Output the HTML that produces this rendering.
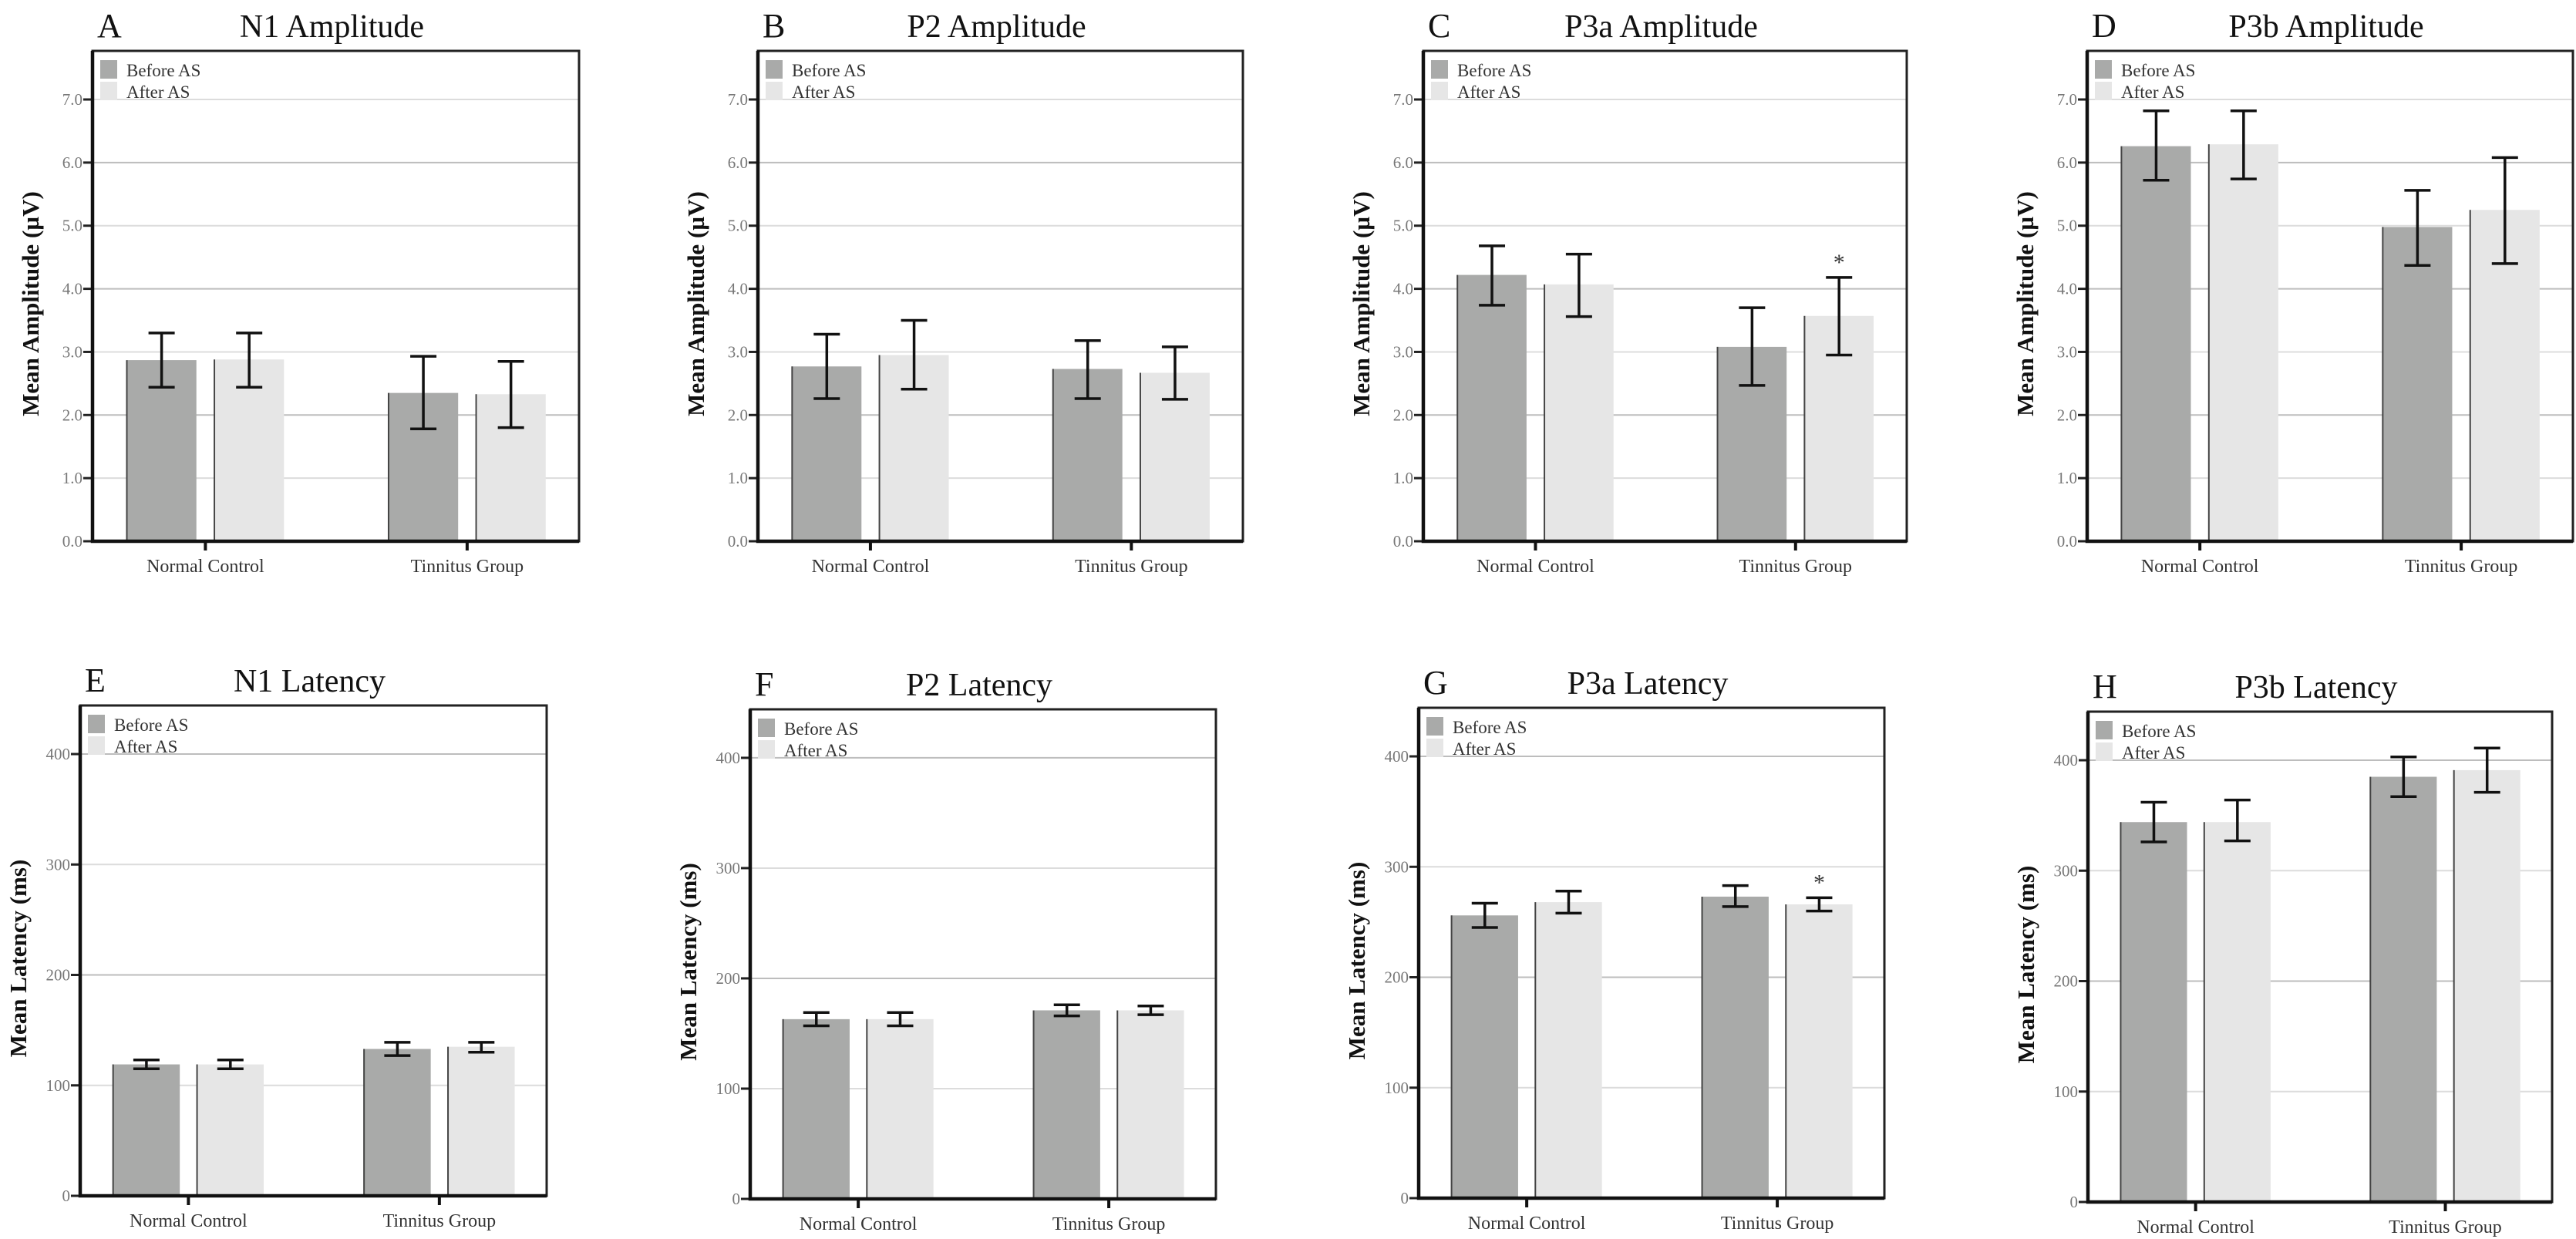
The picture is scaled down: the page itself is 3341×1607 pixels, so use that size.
<!DOCTYPE html>
<html><head><meta charset="utf-8"><style>
html,body{margin:0;padding:0;background:#fff}
svg{display:block}
text{font-family:"Liberation Serif",serif}
</style></head><body>
<svg id="fig" width="3341" height="1607" viewBox="0 0 3341 1607" xmlns="http://www.w3.org/2000/svg"></svg>
<script>
const categories=["Normal Control","Tinnitus Group"];
const seriesNames=["Before AS","After AS"];
const ampTicks=["0.0","1.0","2.0","3.0","4.0","5.0","6.0","7.0"];
const ampTickVals=[0,1,2,3,4,5,6,7];
const latTicks=["0","100","200","300","400"];
const latTickVals=[0,100,200,300,400];
// Panel A N1 amplitude
const aBefore=[2.87,2.35], aBeforeHi=[3.30,2.93], aBeforeLo=[2.44,1.78];
const aAfter=[2.88,2.33], aAfterHi=[3.30,2.85], aAfterLo=[2.44,1.80];
// Panel B P2 amplitude
const bBefore=[2.77,2.73], bBeforeHi=[3.28,3.18], bBeforeLo=[2.26,2.26];
const bAfter=[2.95,2.67], bAfterHi=[3.50,3.08], bAfterLo=[2.41,2.25];
// Panel C P3a amplitude
const cBefore=[4.22,3.08], cBeforeHi=[4.68,3.70], cBeforeLo=[3.74,2.47];
const cAfter=[4.07,3.57], cAfterHi=[4.55,4.18], cAfterLo=[3.56,2.95];
// Panel D P3b amplitude
const dBefore=[6.26,4.98], dBeforeHi=[6.82,5.56], dBeforeLo=[5.72,4.37];
const dAfter=[6.29,5.25], dAfterHi=[6.82,6.08], dAfterLo=[5.74,4.40];
// Panel E N1 latency
const eBefore=[119,133], eBeforeHi=[123,139], eBeforeLo=[115,127];
const eAfter=[119,135], eAfterHi=[123,139], eAfterLo=[115,130];
// Panel F P2 latency
const fBefore=[163,171], fBeforeHi=[169,176], fBeforeLo=[157,166];
const fAfter=[163,171], fAfterHi=[169,175], fAfterLo=[157,167];
// Panel G P3a latency
const gBefore=[256,273], gBeforeHi=[267,283], gBeforeLo=[245,264];
const gAfter=[268,266], gAfterHi=[278,272], gAfterLo=[258,260];
// Panel H P3b latency
const hBefore=[344,385], hBeforeHi=[362,403], hBeforeLo=[326,367];
const hAfter=[344,391], hAfterHi=[364,411], hAfterLo=[327,371];

const svg=document.getElementById('fig');
const NS='http://www.w3.org/2000/svg';
function mk(tag,attrs,parent){const e=document.createElementNS(NS,tag);for(const k in attrs)e.setAttribute(k,attrs[k]);(parent||svg).appendChild(e);return e;}

const panels=[
 {letter:"A",title:"N1 Amplitude",box:[120,66,751,702],kind:"amp",b:[aBefore,aBeforeHi,aBeforeLo],a:[aAfter,aAfterHi,aAfterLo],star:null},
 {letter:"B",title:"P2 Amplitude",box:[983,66,1612,702],kind:"amp",b:[bBefore,bBeforeHi,bBeforeLo],a:[bAfter,bAfterHi,bAfterLo],star:null},
 {letter:"C",title:"P3a Amplitude",box:[1846,66,2473,702],kind:"amp",b:[cBefore,cBeforeHi,cBeforeLo],a:[cAfter,cAfterHi,cAfterLo],star:1},
 {letter:"D",title:"P3b Amplitude",box:[2707,66,3337,702],kind:"amp",b:[dBefore,dBeforeHi,dBeforeLo],a:[dAfter,dAfterHi,dAfterLo],star:null},
 {letter:"E",title:"N1 Latency",box:[104,915,709,1551],kind:"lat",b:[eBefore,eBeforeHi,eBeforeLo],a:[eAfter,eAfterHi,eAfterLo],star:null},
 {letter:"F",title:"P2 Latency",box:[973,920,1577,1555],kind:"lat",b:[fBefore,fBeforeHi,fBeforeLo],a:[fAfter,fAfterHi,fAfterLo],star:null},
 {letter:"G",title:"P3a Latency",box:[1840,918,2444,1554],kind:"lat",b:[gBefore,gBeforeHi,gBeforeLo],a:[gAfter,gAfterHi,gAfterLo],star:1},
 {letter:"H",title:"P3b Latency",box:[2708,923,3310,1559],kind:"lat",b:[hBefore,hBeforeHi,hBeforeLo],a:[hAfter,hAfterHi,hAfterLo],star:null}
];

panels.forEach(p=>{
 const [L,T,R,B]=p.box; const W=R-L;
 const amp=p.kind==="amp";
 const ymax=amp?7.77:444;
 const y=v=>B-(v/ymax)*(B-T);
 const xc=i=>L+W*(i===0?0.232:0.77);
 const bw=W*0.143, off=W*0.09;
 const g=mk('g',{});
 
 
 const tv=amp?ampTickVals:latTickVals, tl=amp?ampTicks:latTicks;
 tv.forEach((v,i)=>{
  if(v>0){const gl=mk('line',{x1:L,x2:R,y1:y(v),y2:y(v),stroke:(i%2===0)?'#bdbdbd':'#dcdcdc','stroke-width':2},g);
   }
  const tk=mk('line',{x1:L-12,x2:L,y1:y(v),y2:y(v),stroke:'#222','stroke-width':3},g);
  
  const t=mk('text',{x:L-13,y:y(v)+7,'text-anchor':'end','font-size':21,fill:'#777'},g);
  t.textContent=tl[i];
  
 });
 [p.b,p.a].forEach((s,si)=>{
  categories.forEach((c,ci)=>{
   const cx=xc(ci)+(si===0?-off:off);
   const r=mk('rect',{x:cx-bw/2,y:y(s[0][ci]),width:bw,height:B-y(s[0][ci]),fill:si===0?'#a9aaa9':'#e6e6e6'},g);
   
   
   const ln=mk('line',{x1:cx-bw/2,x2:cx-bw/2,y1:y(s[0][ci]),y2:B,stroke:'#444','stroke-width':2},g);
   
   const eg=mk('g',{stroke:'#111','stroke-width':3.5},g);
   
   mk('line',{x1:cx,x2:cx,y1:y(s[1][ci]),y2:y(s[2][ci])},eg);
   mk('line',{x1:cx-17,x2:cx+17,y1:y(s[1][ci]),y2:y(s[1][ci])},eg);
   mk('line',{x1:cx-17,x2:cx+17,y1:y(s[2][ci]),y2:y(s[2][ci])},eg);
  });
 });
 if(p.star!==null){
  const cx=xc(p.star)+off;
  const st=mk('text',{x:cx,y:y(p.a[1][p.star])-10,'text-anchor':'middle','font-size':30,fill:'#333'},g);
  st.textContent='*';
  
 }
 const bx=mk('rect',{x:L,y:T,width:W,height:B-T,fill:'none',stroke:'#222','stroke-width':3},g);
 
 const ax=mk('path',{d:`M${L} ${T} V${B} H${R}`,fill:'none',stroke:'#111','stroke-width':4.5},g);
 
 categories.forEach((c,ci)=>{
  const tk=mk('line',{x1:xc(ci),x2:xc(ci),y1:B,y2:B+12,stroke:'#111','stroke-width':4},g);
  
  const t=mk('text',{x:xc(ci),y:B+40,'text-anchor':'middle','font-size':24,fill:'#333'},g);
  t.textContent=c;
  
 });
 seriesNames.forEach((n,i)=>{
  const sw=mk('rect',{x:L+10,y:T+12+i*28,width:22,height:24,fill:i===0?'#a9aaa9':'#e6e6e6'},g);
  
  const t=mk('text',{x:L+44,y:T+33+i*28,'font-size':23,fill:'#333'},g);
  t.textContent=n;
  
 });
 const yt=mk('text',{x:0,y:0,'text-anchor':'middle','font-size':31,'font-weight':'bold',fill:'#111',transform:`translate(${L-70},${(T+B)/2+10}) rotate(-90)`},g);
 yt.textContent=amp?'Mean Amplitude (\u00b5V)':'Mean Latency (ms)';
 
 const tt=mk('text',{x:(L+R)/2-5,y:T-18,'text-anchor':'middle','font-size':42,fill:'#111'},g);
 tt.textContent=p.title;
 
 const lt=mk('text',{x:L+6,y:T-18,'font-size':44,fill:'#111'},g);
 lt.textContent=p.letter;
 
});
</script>
</body></html>
